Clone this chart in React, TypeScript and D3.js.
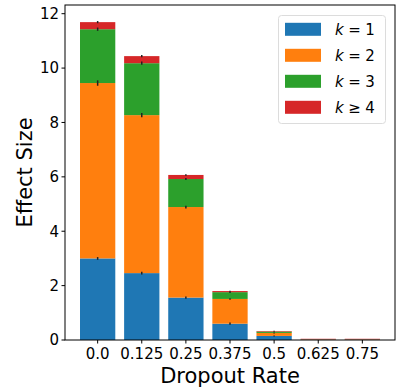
import React from "react";
import * as d3 from "d3";

const categories = ["0.0", "0.125", "0.25", "0.375", "0.5", "0.625", "0.75"];
const seriesNames = ["k = 1", "k = 2", "k = 3", "k ≥ 4"];
const k1 = [3.0, 2.46, 1.56, 0.6, 0.15, 0.01, 0.01];
const k2 = [6.45, 5.81, 3.33, 0.91, 0.11, 0.01, 0.01];
const k3 = [1.98, 1.91, 1.03, 0.25, 0.05, 0.005, 0.005];
const k4 = [0.26, 0.26, 0.15, 0.04, 0.02, 0.02, 0.02];
const err1 = [0.05, 0.05, 0.04, 0.04, 0.02, 0.0, 0.0];
const err2 = [0.1, 0.08, 0.05, 0.03, 0.02, 0.0, 0.0];
const err3 = [0.06, 0.06, 0.04, 0.03, 0.01, 0.0, 0.0];
const err4 = [0.04, 0.04, 0.03, 0.01, 0.01, 0.0, 0.0];
const yTicks = [0, 2, 4, 6, 8, 10, 12];
const colors = ["#1f77b4", "#ff7f0e", "#2ca02c", "#d62728"];

const W = 403, H = 390;
const plot = { left: 65, right: 395, top: 5, bottom: 340 };

export default function App() {
  const series = [k1, k2, k3, k4];
  const errs = [err1, err2, err3, err4];
  const n = categories.length;
  const x = d3.scaleLinear().domain([-0.74, n - 1 + 0.74]).range([plot.left, plot.right]);
  const y = d3.scaleLinear().domain([0, 12.32]).range([plot.bottom, plot.top]);
  const bw = x(0.8) - x(0);

  const data = categories.map((c, i) => {
    const o: any = { cat: i };
    seriesNames.forEach((s, j) => (o[s] = series[j][i]));
    return o;
  });
  const stacked = d3.stack().keys(seriesNames)(data);

  const font = "DejaVu Sans, sans-serif";

  return (
    <svg width={W} height={H} style={{ position: "absolute", left: 0, top: 0 }}>
      <rect x={0} y={0} width={W} height={H} fill="white" />
      {stacked.map((layer, j) => (
        <g key={j}>
          {layer.map((d, i) => (
            <rect
              key={i}
              x={x(i) - bw / 2}
              y={y(d[1])}
              width={bw}
              height={Math.max(0, y(d[0]) - y(d[1]))}
              fill={colors[j]}
            />
          ))}
        </g>
      ))}
      {stacked.map((layer, j) => (
        <g key={"e" + j}>
          {layer.map((d, i) => (
            <line
              key={i}
              x1={x(i)}
              x2={x(i)}
              y1={y(d[1] - errs[j][i])}
              y2={y(d[1] + errs[j][i])}
              stroke="#222"
              strokeWidth={1.5}
            />
          ))}
        </g>
      ))}
      {/* spines */}
      <rect
        x={plot.left}
        y={plot.top}
        width={plot.right - plot.left}
        height={plot.bottom - plot.top}
        fill="none"
        stroke="black"
        strokeWidth={1}
      />
      {/* y ticks */}
      {yTicks.map((t) => (
        <g key={t}>
          <line x1={plot.left - 3.5} x2={plot.left} y1={y(t)} y2={y(t)} stroke="black" />
          <text
            x={plot.left - 6}
            y={y(t)}
            dy="0.36em"
            textAnchor="end"
            fontFamily={font}
            fontSize={15}
          >
            {t}
          </text>
        </g>
      ))}
      {/* x ticks */}
      {categories.map((c, i) => (
        <g key={c}>
          <line x1={x(i)} x2={x(i)} y1={plot.bottom} y2={plot.bottom + 3.5} stroke="black" />
          <text
            x={x(i)}
            y={plot.bottom + 19}
            textAnchor="middle"
            fontFamily={font}
            fontSize={15}
          >
            {c}
          </text>
        </g>
      ))}
      <text
        x={(plot.left + plot.right) / 2}
        y={383}
        textAnchor="middle"
        fontFamily={font}
        fontSize={21}
      >
        Dropout Rate
      </text>
      <text
        transform={`translate(32, ${(plot.top + plot.bottom) / 2}) rotate(-90)`}
        textAnchor="middle"
        fontFamily={font}
        fontSize={21}
      >
        Effect Size
      </text>
      {/* legend */}
      <rect
        x={278.5}
        y={15.5}
        width={107}
        height={108}
        rx={3}
        fill="white"
        fillOpacity={0.8}
        stroke="#dcdcdc"
      />
      {seriesNames.map((s, j) => {
        const cy = 29.3 + j * 26;
        return (
          <g key={s}>
            <rect x={285} y={cy - 6.5} width={36} height={13} fill={colors[j]} />
            <text x={335} y={cy} dy="0.36em" fontFamily={font} fontSize={15}>
              <tspan fontStyle="italic">k</tspan>
              <tspan dx={4.5}>{j < 3 ? "=" : "≥"}</tspan>
              <tspan dx={4.5}>{j < 3 ? String(j + 1) : "4"}</tspan>
            </text>
          </g>
        );
      })}
    </svg>
  );
}
